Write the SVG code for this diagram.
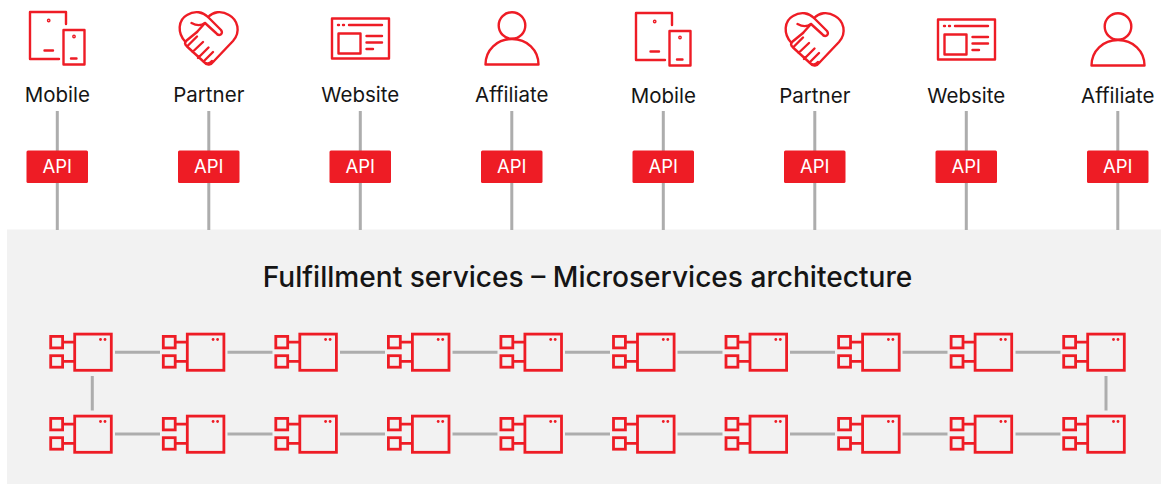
<svg xmlns="http://www.w3.org/2000/svg" width="1161" height="484" viewBox="0 0 1161 484">
<style>
.ic{fill:none;stroke:#ee1c25;stroke-width:2.400;stroke-linejoin:round;stroke-linecap:round}
.ln{fill:none;stroke:#adadad;stroke-width:3}
.lb{font-family:"Inter","Liberation Sans",sans-serif;font-size:20.500px;fill:#151515;text-anchor:middle}
.ap{font-family:"Inter","Liberation Sans",sans-serif;font-size:18.500px;fill:#fff;text-anchor:middle}
.tt{font-family:"Inter","Liberation Sans",sans-serif;font-size:28.100px;font-weight:450;fill:#151515;text-anchor:middle}
.cp{fill:none;stroke:#ee1c25;stroke-width:2.800}
</style>
<defs>
<g id="mobile" class="ic"><path d="M66 24V12H30V59H59"/><rect x="63.500" y="30" width="21" height="34.500"/><path d="M44.500 50.500H53M71 58.500H76.500"/><circle cx="48.700" cy="20.500" r=".7"/><circle cx="74" cy="36.500" r=".7"/></g>
<g id="partner" class="ic"><path d="M185.500 42C177 33 178 20 187 15C195 10 203 12 208 17C213 12 221 10 229 15C238 20 241 32 233 41L214 61C211 65 207 66 204 62"/><path d="M208 17L221 30C224 34 219 37 216 33L205 23L197 32"/><path d="M191.500 23C197 26 201 26 205 23M197 32L186 41C184 43 185.500 45 187 46.500L204 62C206 64 210 64 212 61M197 36.500L187 46.500M203 42L192.500 52M208.500 47.500L198 58M213 52L205 60"/></g>
<g id="website" class="ic"><rect x="332" y="18.500" width="57" height="40"/><rect x="338.500" y="33.500" width="22" height="20"/><path d="M349 25H382M366.500 36H382M366.500 42.500H382M366.500 49H373M338 25H339M343 25H344"/></g>
<g id="affiliate" class="ic"><circle cx="512" cy="25.500" r="13.300"/><path d="M485.500 64.500C485.500 50 497 39 512 39C527 39 538.500 50 538.500 64.500Z"/></g>
<g id="comp"><rect class="cp" x="74.700" y="334.100" width="36.600" height="36.200"/><rect class="cp" x="50.700" y="336.400" width="11.900" height="11.500"/><rect class="cp" x="50.700" y="355.700" width="11.900" height="11.500"/><path class="cp" d="M63 342.200H75M63 361.400H75"/><circle cx="100.500" cy="339.500" r="1.400" fill="#ee1c25"/><circle cx="105" cy="339.500" r="1.400" fill="#ee1c25"/></g>
<rect id="apibox" x="26.500" y="150.500" width="61.500" height="32.500" rx="1.500" fill="#ee1c25"/>
</defs>
<rect id="panel" x="7" y="229.500" width="1154" height="254.500" fill="#f2f2f2"/>
<g id="connectors" class="ln">
<path d="M57.300 111V230M208.800 111V230M360.300 111V230M511.800 111V230M663.300 111V230M814.800 111V230M966.300 111V230M1117.800 111V230"/>
<path d="M115 352.300H160M227.500 352.300H272.500M340 352.300H385M452.500 352.300H497.500M565 352.300H610M677.500 352.300H722.500M790 352.300H835M902.500 352.300H947.500M1015.500 352.300H1060.500"/>
<path d="M115 434H160M227.500 434H272.500M340 434H385M452.500 434H497.500M565 434H610M677.500 434H722.500M790 434H835M902.500 434H947.500M1015.500 434H1060.500"/>
<path d="M92.300 376V410.500M1106 376V410.500"/>
</g>
<g id="client-1"><use href="#mobile"/><text class="lb" x="57.300" y="101.500">Mobile</text></g>
<g id="client-2"><use href="#partner"/><text class="lb" x="208.800" y="101.500">Partner</text></g>
<g id="client-3"><use href="#website"/><text class="lb" x="360.300" y="101.500">Website</text></g>
<g id="client-4"><use href="#affiliate"/><text class="lb" x="511.800" y="101.500">Affiliate</text></g>
<g id="client-5"><use href="#mobile" x="606" y="1"/><text class="lb" x="663.300" y="102.500">Mobile</text></g>
<g id="client-6"><use href="#partner" x="606" y="1"/><text class="lb" x="814.800" y="102.500">Partner</text></g>
<g id="client-7"><use href="#website" x="606" y="1"/><text class="lb" x="966.300" y="102.500">Website</text></g>
<g id="client-8"><use href="#affiliate" x="606" y="1"/><text class="lb" x="1117.800" y="102.500">Affiliate</text></g>
<g id="api-1"><use href="#apibox"/><text class="ap" x="57.300" y="173">API</text></g>
<g id="api-2"><use href="#apibox" x="151.500"/><text class="ap" x="208.800" y="173">API</text></g>
<g id="api-3"><use href="#apibox" x="303"/><text class="ap" x="360.300" y="173">API</text></g>
<g id="api-4"><use href="#apibox" x="454.500"/><text class="ap" x="511.800" y="173">API</text></g>
<g id="api-5"><use href="#apibox" x="606"/><text class="ap" x="663.300" y="173">API</text></g>
<g id="api-6"><use href="#apibox" x="757.500"/><text class="ap" x="814.800" y="173">API</text></g>
<g id="api-7"><use href="#apibox" x="909"/><text class="ap" x="966.300" y="173">API</text></g>
<g id="api-8"><use href="#apibox" x="1060.500"/><text class="ap" x="1117.800" y="173">API</text></g>
<text id="title" class="tt" x="587.500" y="286.500">Fulfillment services – Microservices architecture</text>
<g id="svc-row-1">
<g id="s1-1"><use href="#comp"/></g>
<g id="s1-2"><use href="#comp" x="112.600"/></g>
<g id="s1-3"><use href="#comp" x="225.100"/></g>
<g id="s1-4"><use href="#comp" x="337.700"/></g>
<g id="s1-5"><use href="#comp" x="450.200"/></g>
<g id="s1-6"><use href="#comp" x="562.800"/></g>
<g id="s1-7"><use href="#comp" x="675.300"/></g>
<g id="s1-8"><use href="#comp" x="787.900"/></g>
<g id="s1-9"><use href="#comp" x="900.400"/></g>
<g id="s1-10"><use href="#comp" x="1013"/></g>
</g>
<g id="svc-row-2">
<g id="s2-1"><use href="#comp" y="82"/></g>
<g id="s2-2"><use href="#comp" x="112.600" y="82"/></g>
<g id="s2-3"><use href="#comp" x="225.100" y="82"/></g>
<g id="s2-4"><use href="#comp" x="337.700" y="82"/></g>
<g id="s2-5"><use href="#comp" x="450.200" y="82"/></g>
<g id="s2-6"><use href="#comp" x="562.800" y="82"/></g>
<g id="s2-7"><use href="#comp" x="675.300" y="82"/></g>
<g id="s2-8"><use href="#comp" x="787.900" y="82"/></g>
<g id="s2-9"><use href="#comp" x="900.400" y="82"/></g>
<g id="s2-10"><use href="#comp" x="1013" y="82"/></g>
</g>
</svg>
